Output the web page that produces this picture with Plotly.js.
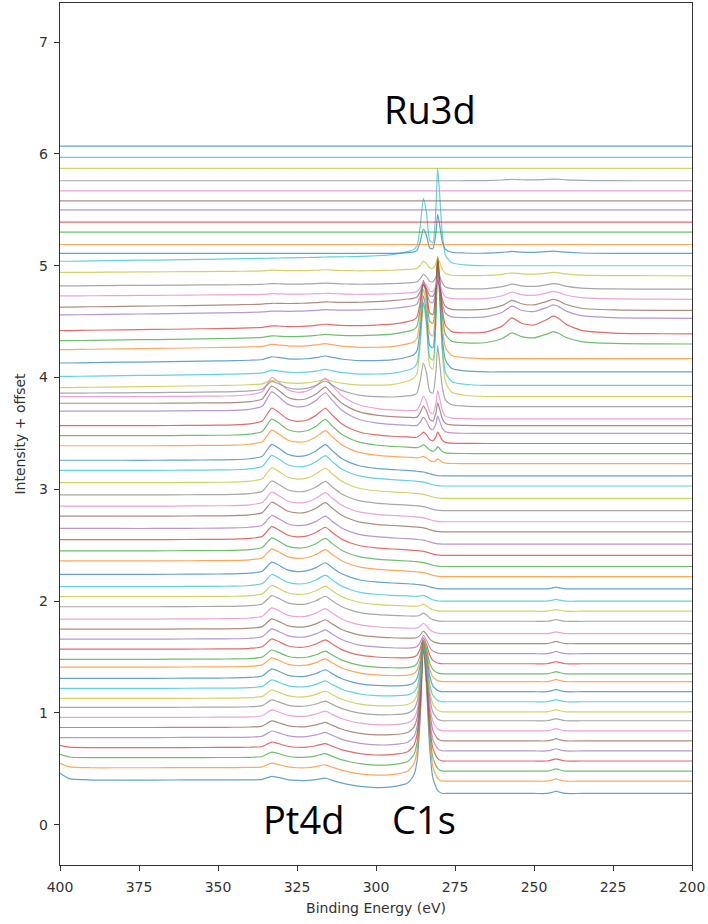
<!DOCTYPE html>
<html><head><meta charset="utf-8">
<script src="https://cdn.plot.ly/plotly-3.0.1.min.js"></script>
<style>html,body{margin:0;padding:0;background:#fff}#chart{width:708px;height:924px}</style>
</head><body><div id="chart"></div>
<script>
// Binding energy grid (eV)
const energy = [400,397,390,380,370,360,350,345,340,336,333,331,328,325,322,319,316,314,311,308,305,300,295,290,288,287,286,285,284,283,282,281,280.5,280,279,278,276,272,265,260,257,254,250,246,244,243,242,240,235,225,210,200];

// Line shapes (one value per energy point)
const stepShape = [1,1,1,1,1,1,1,0.99,0.97,0.94,0.92,0.9,0.87,0.84,0.8,0.76,0.72,0.68,0.62,0.55,0.48,0.42,0.38,0.34,0.32,0.3,0.28,0.25,0.2,0.14,0.08,0.04,0.02,0.01,0,0,0,0,0,0,0,0,0,0,0,0,0,0,0,0,0,0];
const pt4dShape = [0,0,0,0,0,0.01,0.02,0.04,0.1,0.25,0.85,0.7,0.4,0.32,0.4,0.65,1.0,0.75,0.4,0.22,0.12,0.05,0.02,0.01,0,0,0,0,0,0,0,0,0,0,0,0,0,0,0,0,0,0,0,0,0,0,0,0,0,0,0,0];
const c1sShape  = [0,0,0,0,0,0,0,0,0,0,0,0,0,0,0,0,0,0,0,0,0,0,0.01,0.04,0.1,0.2,0.5,1.0,0.72,0.3,0.1,0.04,0.02,0.01,0,0,0,0,0,0,0,0,0,0,0,0,0,0,0,0,0,0];
const ru3dShape = [0,0,0,0,0,0,0,0,0,0,0,0,0,0,0,0,0,0,0,0,0,0,0,0.02,0.04,0.08,0.3,0.62,0.45,0.14,0.12,0.55,1.0,0.8,0.3,0.1,0.03,0.01,0,0,0,0,0,0,0,0,0,0,0,0,0,0];
const rampShape = [0,0,0.03,0.07,0.1,0.14,0.18,0.2,0.23,0.26,0.28,0.3,0.32,0.35,0.38,0.41,0.45,0.47,0.5,0.54,0.58,0.66,0.76,0.88,0.93,0.96,1,1,1,1,1,0.95,0.85,0.7,0.4,0.15,0.03,0,0,0,0,0,0,0,0,0,0,0,0,0,0,0];
const lowShape  = [0,0,0,0,0,0,0,0,0,0,0,0,0,0,0,0,0,0,0,0,0,0,0,0,0,0,0,0,0,0,0,0,0,0,0,0,0,0.03,0.12,0.45,0.9,0.6,0.5,0.8,1.0,0.95,0.85,0.55,0.2,0.05,0.01,0];
const notchShape= [0,0,0,0,0,0,0,0,0,0,0,0,0,0,0,0,0,0,0,0,0,0,0,0,0,0,0,0,0,0,0,0,0,0,0,0,0,0,0,0,0,0,0,0,0.6,1,0.6,0,0,0,0,0];
const edgeShape = [1,0.2,0,0,0,0,0,0,0,0,0,0,0,0,0,0,0,0,0,0,0,0,0,0,0,0,0,0,0,0,0,0,0,0,0,0,0,0,0,0,0,0,0,0,0,0,0,0,0,0,0,0];

// Per-spectrum values (61 spectra, bottom to top)
const baseRight = [0.28,0.39,0.48,0.57,0.66,0.75,0.84,0.93,1.01,1.10,1.19,1.28,1.35,1.44,1.53,1.62,1.71,1.82,1.91,2.00,2.11,2.22,2.31,2.41,2.51,2.62,2.71,2.81,2.92,3.03,3.12,3.23,3.32,3.41,3.50,3.57,3.63,3.74,3.83,3.93,4.05,4.17,4.30,4.39,4.53,4.60,4.70,4.79,4.91,5.00,5.11,5.19,5.30,5.39,5.50,5.58,5.67,5.76,5.87,5.97,6.07];
const stepHeight = [0.12,0.12,0.12,0.12,0.12,0.12,0.12,0.12,0.12,0.12,0.12,0.13,0.13,0.13,0.13,0.13,0.13,0.13,0.13,0.13,0.13,0.14,0.14,0.14,0.14,0.14,0.14,0.14,0.14,0.14,0.14,0.16,0.16,0.16,0.2,0.2,0.2,0.12,0.08,0.08,0.08,0.08,0.03,0.03,0.03,0.03,0.03,0.03,0.03,0.04,0,0,0,0,0,0,0,0,0,0,0];
const pt4dAmp = [0.05,0.06,0.07,0.07,0.08,0.08,0.09,0.09,0.10,0.10,0.11,0.11,0.11,0.12,0.12,0.12,0.13,0.13,0.13,0.14,0.14,0.14,0.15,0.15,0.15,0.16,0.16,0.16,0.17,0.17,0.18,0.18,0.19,0.20,0.22,0.20,0.22,0.12,0.05,0.04,0.04,0.03,0.02,0.02,0.01,0.01,0.01,0.01,0.01,0,0,0,0,0,0,0,0,0,0,0,0];
const c1sAmp = [1.28,1.19,1.10,1.03,0.92,0.85,0.74,0.67,0.59,0.48,0.42,0.32,0.27,0.20,0.13,0.08,0.06,0.04,0.03,0.02,0,0,0,0,0,0,0,0,0,0,0,0,0,0,0,0,0,0,0,0,0,0,0,0,0,0,0,0,0,0,0,0,0,0,0,0,0,0,0,0,0];
const ru3dAmp = [0,0,0,0,0,0,0,0,0,0,0,0,0,0,0,0,0,0,0,0,0,0,0,0,0,0,0,0,0,0,0,0.04,0.06,0.1,0.15,0.2,0.25,0.5,1.15,1.0,0.9,0.8,0.7,0.6,0.3,0.2,0.15,0.12,0.12,0.78,0.35,0,0,0,0,0,0,0,0,0,0];
const rampAmp = [0,0,0,0,0,0,0,0,0,0,0,0,0,0,0,0,0,0,0,0,0,0,0,0,0,0,0,0,0,0,0,0,0,0,0,0,0,0.05,0.1,0.1,0.1,0.1,0.1,0.1,0.1,0.1,0.05,0.05,0.05,0.11,0,0,0,0,0,0,0,0,0,0,0];
const lowAmp = [0,0,0,0,0,0,0,0,0,0,0,0,0,0,0,0,0,0,0,0,0,0,0,0,0,0,0,0,0,0,0,0,0,0,0,0,0,0,0,0,0,0,0.11,0.16,0.12,0.1,0.07,0.05,0.03,0,0.02,0,0,0,0,0,0,0.015,0,0,0];
const notchAmp = [0.02,0.02,0.02,0.02,0.02,0.02,0.02,0.02,0.02,0.02,0.02,0.02,0.02,0.02,0.02,0.02,0.015,0.015,0.015,0.015,0.015,0,0,0,0,0,0,0,0,0,0,0,0,0,0,0,0,0,0,0,0,0,0,0,0,0,0,0,0,0,0,0,0,0,0,0,0,0,0,0,0];
const edgeAmp = [0.06,0.04,0.03,0.02,0,0,0,0,0,0,0,0,0,0,0,0,0,0,0,0,0,0,0,0,0,0,0,0,0,0,0,0,0,0,0,0,0,0,0,0,0,0,0,0,0,0,0,0,0,0,0,0,0,0,0,0,0,0,0,0,0];

const tickVals = [400,375,350,325,300,275,250,225,200];
const yTickVals = [0,1,2,3,4,5,6,7];
const palette = ['#1f77b4','#ff7f0e','#2ca02c','#d62728','#9467bd','#8c564b','#e377c2','#7f7f7f','#bcbd22','#17becf'];

const traces = baseRight.map((r, i) => ({
  type: 'scatter', mode: 'lines', x: energy,
  y: energy.map((_, k) => r + stepHeight[i]*stepShape[k] + pt4dAmp[i]*pt4dShape[k] + c1sAmp[i]*c1sShape[k]
      + ru3dAmp[i]*ru3dShape[k] + rampAmp[i]*rampShape[k] + lowAmp[i]*lowShape[k]
      + notchAmp[i]*notchShape[k] + edgeAmp[i]*edgeShape[k]),
  line: {color: palette[i % 10], width: 1.2, shape: 'spline', smoothing: 0.6},
  opacity: 0.68, hoverinfo: 'skip'
}));

const axisFont = {family: 'DejaVu Sans', size: 14, color: '#333'};
const annFont = {family: 'Open Sans', size: 38, color: '#000'};
const layout = {
  width: 708, height: 924,
  margin: {l: 60, r: 16, t: 3, b: 59},
  paper_bgcolor: '#fff', plot_bgcolor: '#fff', showlegend: false,
  xaxis: {range: [400, 200], tickvals: tickVals, ticks: 'outside', ticklen: 5, tickwidth: 1, tickcolor: '#333',
    showline: true, linecolor: '#333', linewidth: 1.2, mirror: true, showgrid: false, zeroline: false,
    tickfont: axisFont, ticklabelstandoff: 4,
    title: {text: 'Binding Energy (eV)', font: axisFont, standoff: 9}},
  yaxis: {range: [-0.36, 7.35], tickvals: yTickVals, ticks: 'outside', ticklen: 5, tickwidth: 1, tickcolor: '#333',
    showline: true, linecolor: '#333', linewidth: 1.2, mirror: true, showgrid: false, zeroline: false,
    tickfont: axisFont, ticklabelstandoff: 3,
    title: {text: 'Intensity + offset', font: axisFont, standoff: 10}},
  annotations: [
    {x: 282.9, y: 6.40, xref: 'x', yref: 'y', text: 'Ru3d', showarrow: false, font: annFont},
    {x: 323.1, y: 0.05, xref: 'x', yref: 'y', text: 'Pt4d', showarrow: false, font: annFont},
    {x: 284.8, y: 0.05, xref: 'x', yref: 'y', text: 'C1s', showarrow: false, font: annFont}
  ]
};
Plotly.newPlot('chart', traces, layout, {displayModeBar: false, staticPlot: true});
</script>
</body></html>
